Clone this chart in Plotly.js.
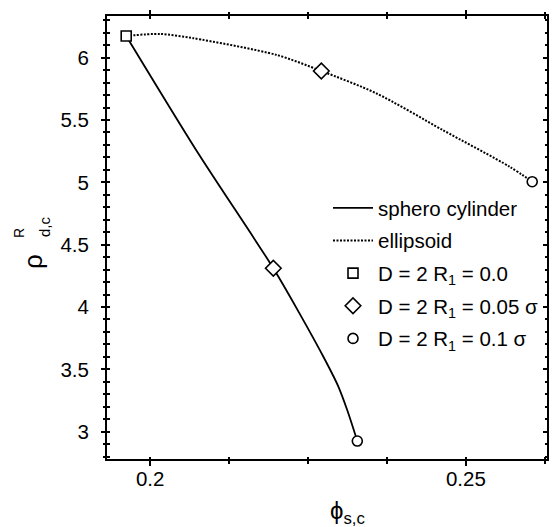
<!DOCTYPE html>
<html>
<head>
<meta charset="utf-8">
<script src="https://cdn.plot.ly/plotly-3.0.1.min.js"></script>
<style>html,body{margin:0;padding:0;background:#fff;overflow:hidden;}#chart{width:553px;height:527px;}</style>
</head>
<body>
<div id="chart"></div>
<script>
// Curves
const spheroX = [0.1962, 0.2076, 0.2195, 0.2236, 0.2277, 0.2298, 0.2312, 0.2328];
const spheroY = [6.174, 5.233, 4.311, 3.953, 3.575, 3.362, 3.174, 2.925];
const ellipX = [0.1962, 0.2016, 0.2068, 0.2200, 0.2271, 0.2358, 0.2463, 0.2569, 0.2605];
const ellipY = [6.174, 6.190, 6.156, 6.022, 5.893, 5.714, 5.420, 5.126, 5.005];
// Marked points
const squareX = [0.1962];
const squareY = [6.174];
const diamondX = [0.2195, 0.2271];
const diamondY = [4.311, 5.893];
const circleX = [0.2328, 0.2605];
const circleY = [2.925, 5.005];
const seriesNames = ["sphero cylinder", "ellipsoid", "D = 2 R<sub>1</sub> = 0.0", "D = 2 R<sub>1</sub> = 0.05 σ", "D = 2 R<sub>1</sub> = 0.1 σ"];
const xRange = [0.193, 0.263];
const yRange = [2.773, 6.342];

const FONT = "Liberation Sans, Arial, Helvetica, sans-serif";
const FS = 20.5;
const INK = "#000";

const markerStyle = (sym, size) => ({symbol: sym, size: size, color: "#fff", line: {color: INK, width: 1.6}});

const traces = [
  {x: spheroX, y: spheroY, mode: "lines", name: seriesNames[0], legendgroup: "a",
   line: {color: INK, width: 1.8, shape: "spline", smoothing: 0.8}},
  {x: ellipX, y: ellipY, mode: "lines", name: seriesNames[1], legendgroup: "b",
   line: {color: INK, width: 2, dash: "2px,1.5px", shape: "spline", smoothing: 0.8}},
  {x: squareX, y: squareY, mode: "markers", name: seriesNames[2], legendgroup: "c", xaxis: "x2", yaxis: "y2",
   marker: markerStyle("square", 10)},
  {x: diamondX, y: diamondY, mode: "markers", name: seriesNames[3], legendgroup: "d", xaxis: "x2", yaxis: "y2",
   marker: markerStyle("diamond", 12)},
  {x: circleX, y: circleY, mode: "markers", name: seriesNames[4], legendgroup: "e", xaxis: "x2", yaxis: "y2",
   marker: markerStyle("circle", 10)}
];

const L = 106, R = 5, T = 15, B = 67, W = 553, H = 527;
const pw = W - L - R, ph = H - T - B;
const px = v => (v - L) / pw;
const py = v => (H - B - v) / ph;

const minorX = (t, len) => ({tick0: 0.2, dtick: 0.0125, ticks: t, ticklen: len, tickwidth: 2, tickcolor: INK, showgrid: false});
const minorY = (t, len) => ({tick0: 3, dtick: 0.1, ticks: t, ticklen: len, tickwidth: 2, tickcolor: INK, showgrid: false});

const layout = {
  width: W, height: H,
  margin: {l: L, r: R, t: T, b: B},
  paper_bgcolor: "#fff", plot_bgcolor: "#fff",
  font: {family: FONT, size: FS, color: INK},
  showlegend: true,
  legend: {x: px(328), y: py(188), xanchor: "left", yanchor: "top", bgcolor: "rgba(0,0,0,0)",
           font: {family: FONT, size: FS, color: INK}, itemwidth: 40,
           traceorder: "grouped", tracegroupgap: 3},
  // bottom axis: axis sits 4px inside the frame so its ticks cross the frame line
  xaxis: {
    range: xRange, tick0: 0.2, dtick: 0.05, anchor: "free", position: 4 / ph, side: "bottom",
    ticks: "outside", ticklen: 9, tickwidth: 2, tickcolor: INK,
    showline: false, showgrid: false, zeroline: false, minor: minorX("outside", 7),
    tickfont: {family: FONT, size: FS}, ticklabelstandoff: -5
  },
  // left axis
  yaxis: {
    range: yRange, tick0: 3, dtick: 0.5, anchor: "free", position: 4 / pw, side: "left",
    ticks: "outside", ticklen: 9, tickwidth: 2, tickcolor: INK,
    showline: false, showgrid: false, zeroline: false, minor: minorY("outside", 7),
    tickfont: {family: FONT, size: FS}, ticklabelstandoff: 8
  },
  // top axis: crossing ticks, no labels
  xaxis2: {
    range: xRange, tick0: 0.2, dtick: 0.05, overlaying: "x", anchor: "free", position: 1 - 4 / ph, side: "top",
    ticks: "outside", ticklen: 9, tickwidth: 2, tickcolor: INK,
    showline: false, showgrid: false, zeroline: false, showticklabels: false, minor: minorX("outside", 7)
  },
  // right axis: inside ticks, no labels
  yaxis2: {
    range: yRange, tick0: 3, dtick: 0.5, overlaying: "y", anchor: "free", position: 1, side: "right",
    ticks: "inside", ticklen: 5, tickwidth: 2, tickcolor: INK,
    showline: false, showgrid: false, zeroline: false, showticklabels: false, minor: minorY("inside", 3)
  },
  shapes: [
    {type: "rect", xref: "paper", yref: "paper", x0: 0, x1: 1, y0: 0, y1: 1,
     line: {color: INK, width: 2}, fillcolor: "rgba(0,0,0,0)", layer: "above"}
  ],
  annotations: [
    {text: "ρ", xref: "paper", yref: "paper", x: px(33), y: py(262), xanchor: "center", yanchor: "middle",
     textangle: -90, showarrow: false, font: {family: FONT, size: 26}},
    {text: "R", xref: "paper", yref: "paper", x: px(19), y: py(233), xanchor: "center", yanchor: "middle",
     textangle: -90, showarrow: false, font: {family: FONT, size: 14}},
    {text: "d,c", xref: "paper", yref: "paper", x: px(44), y: py(227), xanchor: "center", yanchor: "middle",
     textangle: -90, showarrow: false, font: {family: FONT, size: 15}},
    {text: "ϕ<sub>s,c</sub>", xref: "paper", yref: "paper", x: px(347), y: py(512), xanchor: "center", yanchor: "middle",
     showarrow: false, font: {family: FONT, size: 24}}
  ]
};

Plotly.newPlot("chart", traces, layout, {staticPlot: true, displayModeBar: false});
</script>
</body>
</html>
